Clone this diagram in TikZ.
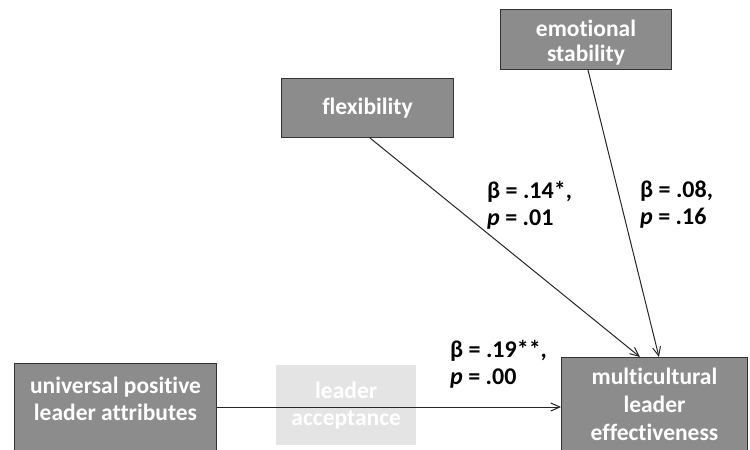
\documentclass[tikz,border=0pt]{standalone}
\usepackage{fontspec}
\setmainfont{Carlito}[Ligatures=CommonOff]
\usetikzlibrary{arrows.meta}
\definecolor{boxgray}{HTML}{8C8C8C}
\definecolor{fadegray}{HTML}{E4E4E4}
\tikzset{
  boxshape/.style={draw=black!80, line width=1pt, fill=boxgray, inner sep=0pt, anchor=north west},
  boxtext/.style={text=white, font=\fontsize{23.5}{27}\selectfont\bfseries, align=center, inner sep=0pt},
  fadebox/.style={draw=none, fill=fadegray, text=white, font=\fontsize{23.5}{27}\selectfont\bfseries, align=center, inner sep=0pt, anchor=north west},
  lab/.style={font=\fontsize{24}{27}\selectfont\bfseries, align=left, anchor=north west, inner sep=0pt},
  conn/.style={draw=black!85, line width=1pt, -{Straight Barb[length=9pt,width=8pt]}}
}
\begin{document}
\begin{tikzpicture}[x=1pt,y=-1pt]
\useasboundingbox (0,0) rectangle (750,450);
\node[boxshape, minimum width=202pt, minimum height=87pt] (upla) at (14,363) {};
\node[boxtext] (uplat) at ([yshift=8pt]upla.center) {universal positive\\leader attributes};
\node[fadebox, minimum width=140pt, minimum height=80pt] (la) at (276,365) {leader\\acceptance};
\node[boxshape, minimum width=186pt, minimum height=100pt] (mle) at (561,357) {};
\node[boxtext, font=\fontsize{23.5}{28}\selectfont\bfseries] (mlet) at ([yshift=3pt]mle.center) {multicultural\\leader\\effectiveness};
\node[boxshape, minimum width=172pt, minimum height=59pt] (flex) at (281,78) {};
\node[boxtext] (flext) at (flex.center) {flexibility};
\node[boxshape, minimum width=171pt, minimum height=60pt] (emo) at (500,9) {};
\node[boxtext, font=\fontsize{23.5}{25.5}\selectfont\bfseries] (emot) at ([yshift=-3pt]emo.center) {emotional\\stability};
\coordinate (flexout) at (370,138);
\coordinate (emoout) at (588,70);
\coordinate (tipa) at (640,357);
\coordinate (tipb) at (659,357);
\draw[conn] (upla.east) -- (upla.east -| mle.west);
\draw[conn] (flexout) -- (tipa);
\draw[conn] (emoout) -- (tipb);
\node[lab] (l1) at (487,181) {β = .14*,\\\textit{p} = .01};
\node[lab] (l2) at (640,181) {β = .08,\\\textit{p} = .16};
\node[lab] (l3) at (450,340) {β = .19**,\\\textit{p} = .00};
\end{tikzpicture}
\end{document}
